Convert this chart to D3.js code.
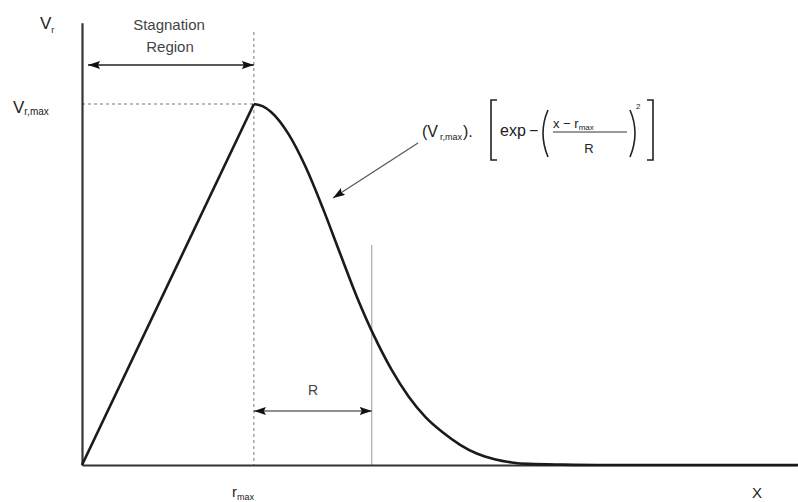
<!DOCTYPE html>
<html>
<head>
<meta charset="utf-8">
<script src="https://cdn.jsdelivr.net/npm/d3@7"></script>
<style>
  body { margin: 0; background: #fff; }
  svg { display: block; font-family: "Liberation Sans", Arial, sans-serif; }
  text { fill: #222; }
</style>
</head>
<body>
<div id="chart"></div>
<script>
// distance from origin, in units of r_max, and velocity, in units of V_r,max
const riseX = [0, 1];
const riseV = [0, 1];
const fallX = [1.00, 1.05, 1.10, 1.20, 1.30, 1.40, 1.50, 1.60, 1.70, 1.80, 1.90, 2.00, 2.10, 2.20, 2.30, 2.40, 2.50, 2.60, 2.80, 3.00, 4.20];
const fallV = [1.00, 0.994, 0.978, 0.918, 0.827, 0.713, 0.588, 0.465, 0.357, 0.265, 0.19, 0.132, 0.09, 0.056, 0.031, 0.016, 0.007, 0.003, 0.001, 0, 0];

const rMax = 1;      // position of the peak
const rWidth = 0.686; // R, the decay length
const vMax = 1;

const width = 798;
const height = 502;

const svg = d3.select("#chart").append("svg")
    .attr("width", width)
    .attr("height", height);

const x = d3.scaleLinear().domain([0, 4.16]).range([82, 797]);
const y = d3.scaleLinear().domain([0, 1]).range([465, 104]);

// arrowheads
const defs = svg.append("defs");
defs.append("marker")
    .attr("id", "head")
    .attr("viewBox", "0 0 12 8")
    .attr("refX", 12).attr("refY", 4)
    .attr("markerWidth", 12).attr("markerHeight", 8)
    .attr("markerUnits", "userSpaceOnUse")
    .attr("orient", "auto-start-reverse")
    .append("path")
    .attr("d", "M0,0 L12,4 L0,8 L2,4 Z")
    .attr("fill", "#111");

// guide lines
svg.append("line")
    .attr("x1", x(rMax)).attr("x2", x(rMax))
    .attr("y1", 32).attr("y2", y(0))
    .attr("stroke", "#777").attr("stroke-width", 1)
    .attr("stroke-dasharray", "3,3");

svg.append("line")
    .attr("x1", x(0)).attr("x2", x(rMax))
    .attr("y1", y(vMax)).attr("y2", y(vMax))
    .attr("stroke", "#777").attr("stroke-width", 1)
    .attr("stroke-dasharray", "3,3");

svg.append("line")
    .attr("x1", x(rMax + rWidth)).attr("x2", x(rMax + rWidth))
    .attr("y1", 245).attr("y2", y(0))
    .attr("stroke", "#999").attr("stroke-width", 1);

// axes
svg.append("g")
    .attr("transform", `translate(0,${y(0)})`)
    .call(d3.axisBottom(x).tickValues([]).tickSizeOuter(0))
    .select(".domain").attr("stroke", "#333").attr("stroke-width", 2.2);

svg.append("g")
    .attr("transform", `translate(${x(0)},0)`)
    .call(d3.axisLeft(d3.scaleLinear().domain([0, 1.225]).range([y(0), y(1.225)])).tickValues([]).tickSizeOuter(0))
    .select(".domain").attr("stroke", "#333").attr("stroke-width", 2.2);

// curve
const rise = riseX.map((d, i) => [d, riseV[i]]);
const fall = fallX.map((d, i) => [d, fallV[i]]);

svg.append("path")
    .datum(rise)
    .attr("fill", "none").attr("stroke", "#1a1a1a").attr("stroke-width", 2.6)
    .attr("d", d3.line().x(d => x(d[0])).y(d => y(d[1])));

svg.append("path")
    .datum(fall)
    .attr("fill", "none").attr("stroke", "#1a1a1a").attr("stroke-width", 2.6)
    .attr("stroke-linejoin", "round")
    .attr("d", d3.line().x(d => x(d[0])).y(d => y(d[1])).curve(d3.curveMonotoneX));

// stagnation region arrow
svg.append("line")
    .attr("x1", 88).attr("x2", x(rMax))
    .attr("y1", 65).attr("y2", 65)
    .attr("stroke", "#222").attr("stroke-width", 1.3)
    .attr("marker-start", "url(#head)").attr("marker-end", "url(#head)");

svg.append("text").attr("x", 169).attr("y", 30)
    .attr("text-anchor", "middle").attr("font-size", 15).style("fill", "#444")
    .text("Stagnation");
svg.append("text").attr("x", 170).attr("y", 52)
    .attr("text-anchor", "middle").attr("font-size", 15).style("fill", "#444")
    .text("Region");

// R arrow
svg.append("line")
    .attr("x1", x(rMax)).attr("x2", x(rMax + rWidth))
    .attr("y1", 411).attr("y2", 411)
    .attr("stroke", "#222").attr("stroke-width", 1.2)
    .attr("marker-start", "url(#head)").attr("marker-end", "url(#head)");

svg.append("text").attr("x", 313).attr("y", 395)
    .attr("text-anchor", "middle").attr("font-size", 14).style("fill", "#444")
    .text("R");

// axis labels
const vr = svg.append("text").attr("x", 40).attr("y", 29).attr("font-size", 17);
vr.append("tspan").text("V");
vr.append("tspan").attr("font-size", 9).attr("dy", 4).text("r");

const vrm = svg.append("text").attr("x", 13).attr("y", 113).attr("font-size", 17);
vrm.append("tspan").text("V");
vrm.append("tspan").attr("font-size", 10).attr("dy", 2).text("r,max");

const rm = svg.append("text").attr("x", 232).attr("y", 497).attr("font-size", 15);
rm.append("tspan").text("r");
rm.append("tspan").attr("font-size", 9).attr("dy", 3).text("max");

svg.append("text").attr("x", 752).attr("y", 498).attr("font-size", 15).text("X");

// formula annotation
svg.append("line")
    .attr("x1", 418).attr("y1", 143).attr("x2", 333).attr("y2", 198)
    .attr("stroke", "#555").attr("stroke-width", 1.2)
    .attr("marker-end", "url(#head)");

const f1 = svg.append("text").attr("x", 422).attr("y", 137).attr("font-size", 16);
f1.append("tspan").text("(V");
f1.append("tspan").attr("font-size", 9).attr("dy", 3).attr("dx", 2).text("r,max");
f1.append("tspan").attr("dy", -3).attr("dx", 1).text(").");

const bracket = (x0, x1, y0, y1) => `M${x1},${y0} L${x0},${y0} L${x0},${y1} L${x1},${y1}`;
svg.append("path").attr("d", bracket(491, 497, 100, 160))
    .attr("fill", "none").attr("stroke", "#222").attr("stroke-width", 1.6);
svg.append("path").attr("d", bracket(653, 647, 100, 160))
    .attr("fill", "none").attr("stroke", "#222").attr("stroke-width", 1.6);

svg.append("text").attr("x", 500).attr("y", 136).attr("font-size", 16).text("exp");
svg.append("text").attr("x", 529).attr("y", 136).attr("font-size", 16).text("\u2212");

// large parentheses
svg.append("path").attr("d", "M548,110 Q538,133 548,157")
    .attr("fill", "none").attr("stroke", "#222").attr("stroke-width", 1.6);
svg.append("path").attr("d", "M630,110 Q640,133 630,157")
    .attr("fill", "none").attr("stroke", "#222").attr("stroke-width", 1.6);

const num = svg.append("text").attr("x", 553).attr("y", 128).attr("font-size", 13);
num.append("tspan").text("x \u2212 r");
num.append("tspan").attr("font-size", 8).attr("dy", 2).text("max");

svg.append("line").attr("x1", 553).attr("x2", 627).attr("y1", 132).attr("y2", 132)
    .attr("stroke", "#333").attr("stroke-width", 1);

svg.append("text").attr("x", 589).attr("y", 153).attr("text-anchor", "middle")
    .attr("font-size", 13).text("R");

svg.append("text").attr("x", 636).attr("y", 109).attr("font-size", 8).text("2");
</script>
</body>
</html>
